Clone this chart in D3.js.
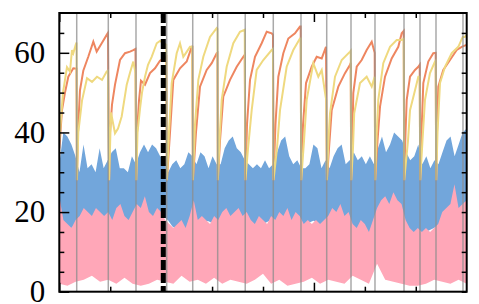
<!DOCTYPE html>
<html><head><meta charset="utf-8">
<script src="https://cdn.jsdelivr.net/npm/d3@7"></script>
<style>body{margin:0;background:#fff}svg{display:block}</style>
</head><body><svg id="c" width="479" height="304"></svg>
<script>
// ---- data (time steps 0..8000, value 0..70) ----
const yMajorTicks = [0, 20, 40, 60];
const yMinorTicks = [5, 10, 15, 25, 30, 35, 45, 50, 55, 65];
const xMajorTicks = [0, 5000];
const xMinorTicks = [1000, 2000, 3000, 4000, 6000, 7000];
const resetTimes = [342, 962, 1506, 2109, 2620, 3110, 3651, 4202, 4746, 5251, 5728, 6199, 6769, 7083, 7397, 7927];
const dashedTime = 2042;

const orange = [
 [0,36],[53,45.6],[112,50],[177,54],[275,56.1],[338,56],
 [346,28],[367,40],[406,50.6],[471,55.5],[569,59],[668,62.8],[734,60.3],[833,62.4],[931,64.5],[956,65],
 [978,28],[996,40],[1035,47],[1094,52],[1192,58.2],[1290,59.9],[1388,60.3],[1453,60.7],[1496,61],
 [1510,28],[1526,40],[1565,48],[1604,53],[1683,52],[1781,54.9],[1879,56.1],[1977,58],[2100,59],
 [2113,28],[2174,40],[2239,53.2],[2370,56.1],[2502,57.8],[2600,61.5],[2612,61.5],
 [2624,28],[2684,40],[2763,51.5],[2894,55.7],[2993,57.4],[3091,59.9],[3105,60],
 [3114,28],[3156,38],[3220,49],[3352,53.2],[3484,56.5],[3613,59],[3641,59.5],
 [3655,28],[3686,42],[3745,53.2],[3843,59],[3974,62.4],[4073,65.3],[4171,64.9],[4196,64.5],
 [4206,28],[4245,42],[4301,54],[4399,59.9],[4497,63.6],[4628,64.9],[4726,66.6],[4740,66.6],
 [4750,28],[4786,42],[4845,52.4],[4956,56.5],[5055,59],[5153,58.6],[5237,61.5],
 [5255,28],[5296,36],[5349,45.6],[5479,51.5],[5610,54.9],[5709,57],[5722,57.5],
 [5732,28],[5758,40],[5773,49.9],[5840,56.5],[5938,58.2],[6036,60.7],[6135,62.8],[6193,60],
 [6203,28],[6249,38],[6298,46.5],[6396,54],[6527,58.6],[6657,61.5],[6724,64.9],[6763,65.5],
 [6773,28],[6799,40],[6822,48.2],[6887,54],[6985,55.7],[7050,56.5],[7077,57],
 [7087,28],[7113,40],[7148,52.4],[7246,57.8],[7344,59.9],[7391,60],
 [7401,28],[7417,40],[7442,51.5],[7540,55.7],[7672,58.2],[7804,60.7],[7902,61.5],[7960,61.8],[8000,62]
];
const yellow = [
 [0,38],[73,50],[151,56.4],[210,55.3],[249,60.7],[275,59.9],[322,62],[338,62.6],
 [346,28],[373,40],[446,48],[544,53.6],[642,52.7],[740,54],[839,53.2],[931,55.3],[956,55.5],
 [978,28],[1015,45],[1094,39.8],[1153,41],[1225,44],[1324,52],[1388,55],[1453,57.8],[1496,55],
 [1510,28],[1536,40],[1585,46],[1624,50],[1683,54],[1742,57],[1814,59],[1913,62.4],[1977,63],[2100,62],
 [2113,28],[2154,40],[2207,52.4],[2305,59.9],[2370,62.4],[2435,59],[2488,60],[2567,61.5],[2612,61.5],
 [2624,28],[2665,42],[2730,53.2],[2828,59],[2959,64],[3091,66.2],[3105,66],
 [3114,28],[3146,38],[3189,48.2],[3287,56.5],[3417,62.4],[3548,65.3],[3641,65.8],
 [3655,28],[3706,36],[3778,45.6],[3876,55.7],[4006,58.2],[4171,60.7],[4196,61],
 [4206,28],[4275,36],[4334,45.6],[4465,56.5],[4595,60.7],[4726,63.6],[4740,63.6],
 [4750,28],[4806,38],[4858,48.2],[4988,57.4],[5086,54],[5153,55.7],[5218,50],[5243,48],
 [5255,28],[5286,38],[5316,44.8],[5414,54],[5546,58.2],[5709,60.3],[5722,60.5],
 [5732,28],[5767,36],[5791,44.8],[5905,52.4],[6036,54],[6135,51.5],[6193,54],
 [6203,28],[6233,40],[6264,48.2],[6362,57.4],[6494,61.5],[6625,63.2],[6724,63.2],[6763,63.5],
 [6773,28],[6848,38],[6887,45.6],[6985,50.6],[7050,54],[7077,54],
 [7087,28],[7132,38],[7181,48.2],[7279,54.9],[7377,57.8],[7391,58],
 [7401,28],[7427,40],[7476,52.4],[7574,56.5],[7706,59.9],[7835,61.5],[7922,64],[7960,64],[8000,64.5]
];
// sampled envelopes (evenly spaced over 0..8000)
const blueHi = [32,40,39,37,34,30,37,31,32,30,36,31,33,35,36,31,31,30,34,32,35,37,35,37,36,34,33,30,32,33,31,32,35,34,32,35,34,31,34,32,32,36,38,39,36,35,33,32,31,32,31,33,31,32,35,38,39,34,32,33,31,31,32,37,36,31,33,31,34,36,37,32,33,35,33,34,32,34,32,36,39,35,37,40,39,38,35,33,34,37,32,34,31,33,32,35,38,39,34,37,40,41];
const blueLo = [16,15,17,15,18,16,17,18,16,17,15,18,17,19,16,15,16,17,18,17,16,18,17,15,16,17,18,16,15,17,16,18,17,15,14,16,14,15,14,15,17,16,14,13,14,15,16,17,18,16,17];
const pinkHi = [24,18,17,16,18,19,21,20,19,21,20,19,20,18,21,22,19,18,20,22,21,24,20,19,21,20,18,17,16,17,18,16,19,23,18,19,18,17,19,18,20,21,19,20,21,19,20,18,17,19,18,17,19,18,20,19,21,18,20,19,17,18,17,18,17,18,19,21,20,22,19,20,17,16,18,17,15,18,21,23,24,22,25,23,22,18,16,15,16,15,16,15,16,17,20,21,22,27,21,22,23];
const pinkLo = [2,1.5,2.5,3,4,2.5,3,2,3.5,2,1.5,2,3,2.5,2,4,2.5,3,2,3.5,2,3,2.5,2,3,4.5,2,3,1.5,2,2.5,3.5,2,3,2.5,2,4,3,2,7,3,2.5,2,1.5,1.5,2,3,2.5,2,3,2];

// ---- layout ----
const L = 59.3, R = 466.7, T = 13, B = 291.7;
const svg = d3.select("#c");
const x = d3.scaleLinear().domain([0, 8000]).range([L, R]);
const y = d3.scaleLinear().domain([0, 70]).range([B, T]);

svg.append("defs").append("clipPath").attr("id","clip")
  .append("rect").attr("x",L).attr("y",T).attr("width",R-L).attr("height",B-T);
const g = svg.append("g").attr("clip-path","url(#clip)");

const tOf = (arr, i) => i * 8000 / (arr.length - 1);
const band = (hi, lo) => hi.map((v, i) => {
  const t = tOf(hi, i);
  const j = t / 8000 * (lo.length - 1);
  const j0 = Math.floor(j), j1 = Math.min(lo.length - 1, j0 + 1), f = j - j0;
  return {t, hi: v, lo: lo[j0] * (1 - f) + lo[j1] * f};
});
const area = d3.area().x(d => x(d.t)).y0(d => y(d.lo)).y1(d => y(d.hi));

g.append("path").datum(band(blueHi, blueLo)).attr("d", area).attr("fill", "#72a6db");
g.append("path").datum(band(pinkHi, pinkLo)).attr("d", area).attr("fill", "#ffa7b8");

const line = d3.line().x(d => x(d[0])).y(d => y(d[1]));
g.append("path").datum(orange).attr("d", line).attr("fill","none").attr("stroke","#ee8660").attr("stroke-width",2);
g.append("path").datum(yellow).attr("d", line).attr("fill","none").attr("stroke","#efd97f").attr("stroke-width",2);

g.selectAll("line.reset").data(resetTimes).join("line").attr("class","reset")
  .attr("x1", d => x(d)).attr("x2", d => x(d)).attr("y1", T).attr("y2", B)
  .attr("stroke", "#8c8c8c").attr("stroke-opacity", 0.75).attr("stroke-width", 1.5);

g.append("line").attr("x1", x(dashedTime)).attr("x2", x(dashedTime)).attr("y1", T).attr("y2", B)
  .attr("stroke", "#000").attr("stroke-width", 5).attr("stroke-dasharray", "10,3");

// ---- axes ----
const font = "'Liberation Serif','Times New Roman',serif";
function ax(gen, pos, ticks, size, labels) {
  const a = svg.append("g").attr("transform", pos)
    .call(gen.tickValues(ticks).tickSize(size).tickPadding(labels ? 14 : 0)
      .tickFormat(labels ? d3.format("d") : ""));
  a.select(".domain").remove();
  a.selectAll(".tick line").attr("stroke", "#000").attr("stroke-width", 1.5);
  a.selectAll("text").attr("font-family", font).attr("font-size", 31).attr("fill", "#000");
  return a;
}
ax(d3.axisLeft(y), `translate(${L},0)`, yMajorTicks, -10, true);
ax(d3.axisLeft(y), `translate(${L},0)`, yMinorTicks, -5, false);
ax(d3.axisRight(y), `translate(${R},0)`, yMajorTicks.concat(yMinorTicks), -5, false);
ax(d3.axisBottom(x), `translate(0,${B})`, xMajorTicks, -9, false);
ax(d3.axisBottom(x), `translate(0,${B})`, xMinorTicks, -5, false);
ax(d3.axisTop(x), `translate(0,${T})`, xMajorTicks, -9, false);
ax(d3.axisTop(x), `translate(0,${T})`, xMinorTicks, -5, false);

svg.append("rect").attr("x", L).attr("y", T).attr("width", R - L).attr("height", B - T)
  .attr("fill", "none").attr("stroke", "#000").attr("stroke-width", 2);
</script></body></html>
